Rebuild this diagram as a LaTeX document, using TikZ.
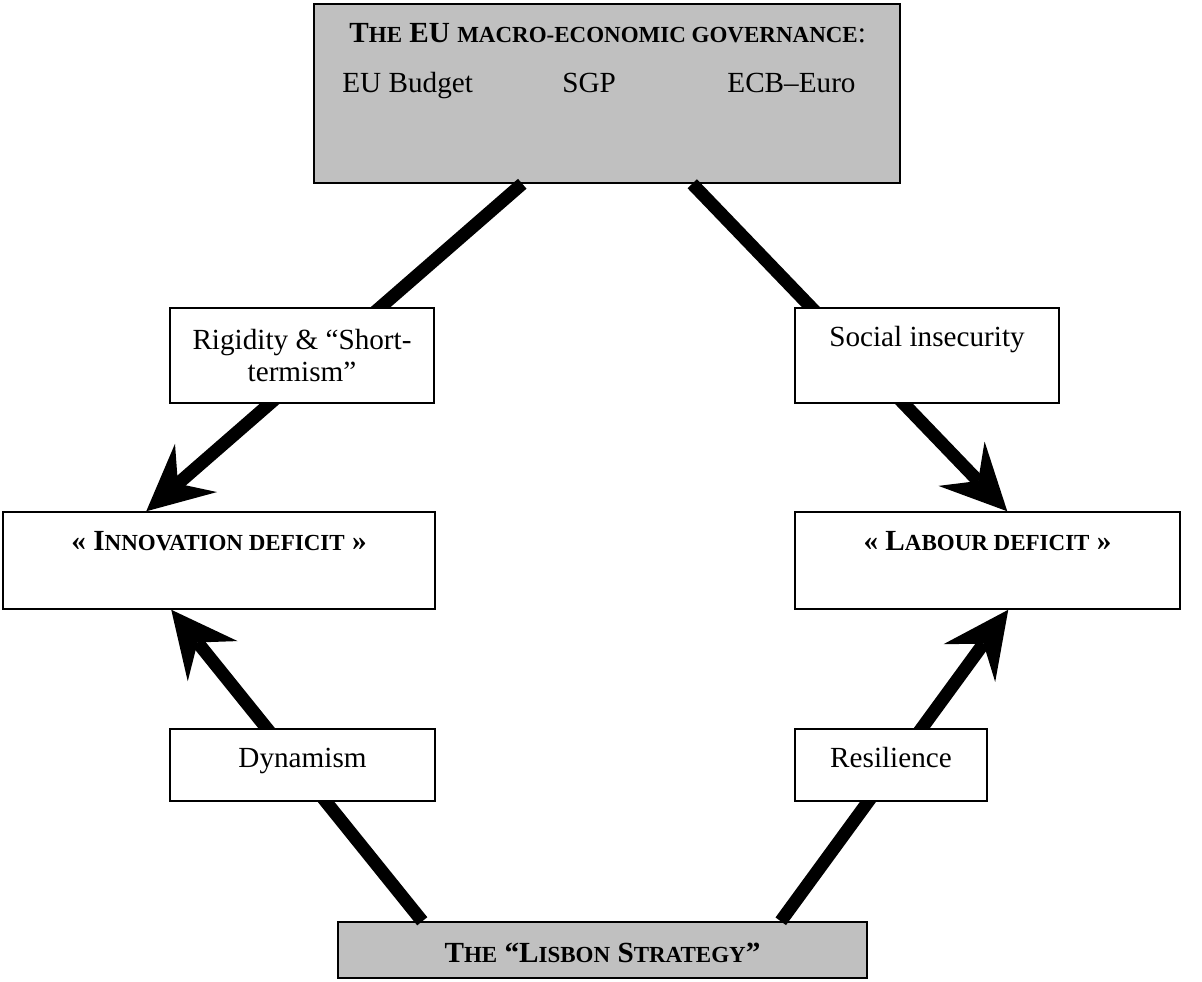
\documentclass[tikz,border=0pt]{standalone}
\usepackage{fontspec}
\setmainfont{Liberation Serif}
\usetikzlibrary{arrows.meta}
\definecolor{boxgray}{RGB}{192,192,192}
\begin{document}
\begin{tikzpicture}[x=0.5pt,y=-0.5pt,font=\fontsize{14.6}{16}\selectfont,
	box/.style={draw,line width=0.75pt,fill=white,inner sep=0pt},
	toptext/.style={text height=19pt},
	arr/.style={line width=6.5pt,-{Stealth[length=33pt,width=32pt,inset=12pt,line width=0pt]}}]
	\newcommand{\smc}[1]{{\fontsize{11.5}{14}\selectfont #1}}
	\useasboundingbox (0,0) rectangle (1202,981);
	% governance box
	\node[box,fill=boxgray,minimum width=293pt,minimum height=89.5pt] (gov) at (607,93.5) {};
	\node[anchor=base west,inner sep=0pt] (govtitle) at (349,42) {\textbf{T\smc{HE} EU \smc{MACRO-ECONOMIC GOVERNANCE}}:};
	\node[anchor=base west,inner sep=0pt] (budget) at (342,92) {EU Budget};
	\node[anchor=base west,inner sep=0pt] (sgp) at (562,92) {SGP};
	\node[anchor=base west,inner sep=0pt] (ecb) at (727,92) {ECB–Euro};
	% deficits
	\node[box,toptext,minimum width=216pt,text depth=29.5pt] (innov) at (219,560.5) {\textbf{« I\smc{NNOVATION DEFICIT} »}};
	\node[box,toptext,minimum width=192.5pt,text depth=29.5pt] (labour) at (987.5,560.5) {\textbf{« L\smc{ABOUR DEFICIT} »}};
	% lisbon
	\node[box,fill=boxgray,text height=20pt,text depth=8pt,minimum width=264.5pt] (lisbon) at (602.5,950) {\textbf{T\smc{HE} “L\smc{ISBON} S\smc{TRATEGY}”}};
	% arrows
	\draw[arr] ([xshift=104.5pt]gov.south west) -- ([xshift=72pt]innov.north west);
	\draw[arr] ([xshift=189.5pt]gov.south west) -- ([xshift=106.5pt]labour.north west);
	\draw[arr] ([xshift=42.5pt]lisbon.north west) -- ([xshift=84.5pt]innov.south west);
	\draw[arr] ([xshift=-43.5pt]lisbon.north east) -- ([xshift=107pt]labour.south west);
	% effects on the arrows
	\node[box,align=center,minimum width=132pt,minimum height=47.5pt] (rigid) at (302,355.5) {Rigidity \& “Short-\\termism”};
	\node[box,toptext,minimum width=132pt,text depth=28.5pt] (social) at (927,355.5) {Social insecurity};
	\node[box,toptext,minimum width=132.5pt,text depth=17pt] (dyn) at (302.5,765) {Dynamism};
	\node[box,toptext,minimum width=96pt,text depth=17pt] (resil) at (891,765) {Resilience};
\end{tikzpicture}
\end{document}
